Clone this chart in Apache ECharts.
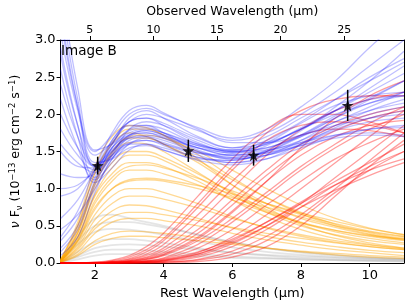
<!DOCTYPE html>
<html><head><meta charset="utf-8">
<script src="https://cdn.jsdelivr.net/npm/echarts@6/dist/echarts.min.js"></script>
<style>html,body{margin:0;padding:0;background:#fff}#c{width:407px;height:305px}</style>
</head><body><div id="c"></div>
<script>
// Rest wavelength sample points (µm)
const restX = [1, 1.5, 2, 2.5, 3, 3.5, 4, 5, 6, 7, 8, 9, 10, 11];
const obsFactor = 2.70; // observed / rest wavelength
const restTicks = [2, 4, 6, 8, 10];
const obsTicks = [5, 10, 15, 20, 25];
const yTicks = [0, 0.5, 1.0, 1.5, 2.0, 2.5, 3.0];

// Photometry (rest wavelength, flux, error)
const obsPtsX = [2.08, 4.72, 6.62, 9.36];
const obsPtsY = [1.31, 1.51, 1.45, 2.12];
const obsPtsErr = [0.12, 0.15, 0.14, 0.21];

// Model curves
const grayCurves = [
  [0.02,0.30,0.50,0.55,0.55,0.52,0.48,0.38,0.28,0.20,0.15,0.11,0.08,0.06],
  [0.01,0.15,0.28,0.32,0.32,0.30,0.27,0.20,0.14,0.10,0.07,0.05,0.04,0.03],
  [0.01,0.08,0.15,0.18,0.18,0.17,0.15,0.12,0.09,0.07,0.05,0.04,0.03,0.02],
  [0.03,0.35,0.60,0.65,0.60,0.55,0.50,0.38,0.28,0.20,0.14,0.10,0.07,0.05],
  [0.01,0.10,0.20,0.24,0.25,0.24,0.22,0.18,0.14,0.11,0.09,0.07,0.06,0.05],
  [0.02,0.25,0.42,0.46,0.45,0.42,0.38,0.29,0.21,0.15,0.11,0.08,0.06,0.05],
  [0.01,0.05,0.10,0.12,0.12,0.12,0.11,0.09,0.07,0.06,0.05,0.04,0.03,0.03]
];
const orangeCurves = [
  [0.05,0.50,1.20,1.60,1.75,1.70,1.60,1.35,1.05,0.80,0.60,0.48,0.38,0.32],
  [0.03,0.40,1.00,1.35,1.50,1.50,1.42,1.20,0.95,0.72,0.55,0.44,0.36,0.30],
  [0.02,0.30,0.80,1.10,1.25,1.25,1.20,1.05,0.85,0.68,0.54,0.44,0.37,0.32],
  [0.02,0.25,0.65,0.90,1.00,1.00,0.95,0.80,0.62,0.47,0.36,0.28,0.22,0.18],
  [0.01,0.20,0.50,0.70,0.78,0.77,0.72,0.60,0.47,0.36,0.28,0.22,0.17,0.14],
  [0.03,0.45,1.10,1.50,1.70,1.72,1.68,1.50,1.25,1.00,0.78,0.60,0.47,0.38],
  [0.02,0.35,0.90,1.20,1.35,1.35,1.30,1.10,0.85,0.62,0.45,0.33,0.25,0.20],
  [0.01,0.15,0.40,0.55,0.60,0.60,0.57,0.50,0.40,0.31,0.24,0.18,0.14,0.10],
  [0.04,0.55,1.30,1.70,1.85,1.82,1.72,1.40,1.05,0.75,0.52,0.37,0.27,0.20],
  [0.02,0.30,0.75,1.00,1.10,1.12,1.10,1.00,0.88,0.75,0.62,0.50,0.42,0.35],
  [0.01,0.12,0.30,0.40,0.43,0.42,0.40,0.34,0.27,0.20,0.15,0.11,0.08,0.06],
  [0.03,0.40,1.05,1.45,1.62,1.60,1.50,1.22,0.93,0.68,0.50,0.38,0.30,0.25],
  [0.02,0.35,0.92,1.28,1.45,1.45,1.38,1.15,0.90,0.70,0.54,0.42,0.33,0.27],
  [0.03,0.42,1.08,1.48,1.68,1.68,1.60,1.38,1.12,0.88,0.68,0.52,0.41,0.33],
  [0.01,0.22,0.58,0.80,0.90,0.90,0.86,0.74,0.60,0.48,0.38,0.30,0.24,0.19],
  [0.02,0.28,0.72,1.00,1.12,1.14,1.12,1.04,0.93,0.80,0.67,0.56,0.46,0.38],
  [0.04,0.50,1.22,1.62,1.80,1.80,1.72,1.46,1.15,0.88,0.66,0.50,0.39,0.31],
  [0.01,0.18,0.46,0.62,0.68,0.68,0.65,0.57,0.48,0.40,0.33,0.27,0.22,0.18],
  [0.02,0.32,0.84,1.15,1.30,1.32,1.28,1.14,0.97,0.80,0.65,0.53,0.43,0.36],
  [0.01,0.10,0.25,0.33,0.36,0.36,0.34,0.30,0.25,0.20,0.16,0.13,0.10,0.08]
];
const redCurves = [
  [0,0,0,0.01,0.03,0.08,0.17,0.45,0.85,1.25,1.60,1.85,2.00,2.10],
  [0,0,0,0,0.01,0.03,0.07,0.25,0.55,0.90,1.25,1.55,1.80,2.00],
  [0,0,0,0,0,0.01,0.03,0.12,0.30,0.55,0.82,1.10,1.35,1.60],
  [0,0,0,0.02,0.06,0.15,0.30,0.75,1.25,1.65,1.85,1.90,1.85,1.75],
  [0,0,0,0,0.01,0.02,0.05,0.15,0.32,0.55,0.80,1.05,1.25,1.40],
  [0,0,0,0,0,0,0.01,0.04,0.12,0.30,0.60,0.95,1.25,1.50],
  [0,0,0.01,0.04,0.10,0.22,0.40,0.90,1.40,1.80,2.00,2.00,1.90,1.75],
  [0,0,0,0.01,0.02,0.05,0.10,0.30,0.60,0.95,1.30,1.60,1.88,2.10],
  [0,0,0,0,0.01,0.02,0.04,0.14,0.35,0.65,1.00,1.35,1.70,2.05],
  [0,0,0,0,0,0.01,0.02,0.08,0.22,0.45,0.75,1.05,1.30,1.50],
  [0,0,0,0.01,0.04,0.10,0.20,0.55,1.00,1.45,1.80,2.05,2.20,2.30],
  [0,0,0,0,0,0,0,0.02,0.08,0.22,0.50,0.90,1.30,1.65],
  [0,0,0.01,0.03,0.08,0.18,0.33,0.80,1.30,1.75,2.05,2.20,2.25,2.25],
  [0,0,0,0.01,0.02,0.06,0.12,0.35,0.70,1.10,1.45,1.70,1.85,1.92],
  [0,0,0,0,0.01,0.03,0.06,0.20,0.45,0.78,1.10,1.40,1.62,1.80],
  [0,0,0,0,0,0.01,0.03,0.10,0.26,0.50,0.80,1.15,1.50,1.85],
  [0,0,0,0.02,0.05,0.12,0.25,0.65,1.10,1.50,1.72,1.80,1.78,1.70],
  [0,0,0,0,0.01,0.02,0.04,0.12,0.28,0.50,0.75,0.98,1.18,1.35],
  [0,0,0,0,0,0,0.01,0.05,0.16,0.36,0.65,1.00,1.38,1.75],
  [0,0,0,0.01,0.03,0.07,0.14,0.40,0.78,1.18,1.52,1.78,1.95,2.05],
  [0,0,0,0.01,0.02,0.05,0.11,0.33,0.68,1.10,1.55,1.95,2.25,2.45]
];
const blueCurves = [
  [3.80,2.35,1.52,1.60,1.80,1.85,1.80,1.60,1.50,1.60,1.80,2.05,2.35,2.65],
  [3.40,2.10,1.30,1.45,1.65,1.70,1.65,1.50,1.42,1.50,1.70,1.95,2.20,2.45],
  [2.90,1.85,1.15,1.45,1.80,1.90,1.85,1.65,1.52,1.60,1.80,2.00,2.15,2.30],
  [2.40,1.70,1.30,1.60,1.95,2.05,1.95,1.70,1.55,1.70,1.95,2.20,2.45,2.70],
  [1.80,1.45,1.25,1.45,1.70,1.75,1.70,1.55,1.45,1.50,1.65,1.85,2.05,2.20],
  [1.20,1.15,1.20,1.55,1.75,1.80,1.75,1.60,1.50,1.55,1.70,1.90,2.10,2.30],
  [0.60,0.85,1.25,1.60,1.85,1.85,1.75,1.52,1.42,1.48,1.62,1.80,1.95,2.05],
  [0.30,0.60,1.15,1.50,1.68,1.70,1.60,1.45,1.35,1.40,1.55,1.70,1.80,1.85],
  [3.10,2.05,1.45,1.62,1.90,2.00,1.95,1.78,1.65,1.75,2.00,2.30,2.65,3.00],
  [2.00,1.55,1.30,1.50,1.68,1.72,1.68,1.55,1.48,1.62,1.88,2.12,2.25,2.30],
  [0.90,1.00,1.30,1.75,2.05,2.12,2.02,1.80,1.62,1.62,1.72,1.85,1.95,2.00],
  [2.60,1.70,1.08,1.28,1.52,1.60,1.55,1.42,1.35,1.45,1.65,1.90,2.05,2.15],
  [0.45,0.65,1.00,1.40,1.60,1.60,1.52,1.38,1.32,1.40,1.60,1.82,2.00,2.10],
  [1.50,1.30,1.28,1.65,1.90,1.95,1.88,1.68,1.55,1.62,1.80,2.05,2.30,2.55],
  [3.60,2.20,1.35,1.40,1.55,1.58,1.52,1.40,1.38,1.52,1.78,2.10,2.45,2.85],
  [0.20,0.50,1.10,1.55,1.78,1.82,1.75,1.58,1.48,1.52,1.62,1.72,1.75,1.72],
  [0.10,0.35,0.95,1.40,1.62,1.65,1.58,1.42,1.38,1.50,1.72,1.98,2.22,2.45],
  [2.20,1.55,1.12,1.35,1.60,1.68,1.62,1.48,1.40,1.45,1.58,1.72,1.80,1.82],
  [3.30,2.10,1.50,1.72,2.00,2.08,2.00,1.82,1.68,1.80,2.10,2.45,2.90,3.30],
  [1.00,1.05,1.25,1.55,1.72,1.75,1.68,1.50,1.40,1.45,1.60,1.78,1.90,1.95],
  [0.35,0.70,1.25,1.65,1.90,1.95,1.85,1.62,1.50,1.55,1.72,1.95,2.15,2.25],
  [2.80,1.85,1.32,1.52,1.72,1.78,1.72,1.58,1.52,1.65,1.90,2.20,2.50,2.75],
  [1.60,1.35,1.22,1.42,1.60,1.65,1.60,1.48,1.45,1.58,1.82,2.05,2.20,2.25],
  [0.15,0.45,1.05,1.48,1.72,1.78,1.72,1.55,1.45,1.48,1.58,1.68,1.72,1.70]
];

const FONT = 'DejaVu Sans';
const chart = echarts.init(document.getElementById('c'), null, {renderer: 'canvas'});

function curveSeries(list, color, opacity, width) {
  return list.map(vals => ({
    type: 'line',
    xAxisIndex: 0, yAxisIndex: 0,
    data: restX.map((x, i) => [x, vals[i]]),
    showSymbol: false, symbol: 'none',
    smooth: 0.4,
    silent: true, animation: false,
    lineStyle: {color: color, width: width, opacity: opacity},
    z: 2
  }));
}

const starPath = 'path://M0,-10 L2.35,-3.24 L9.51,-3.09 L3.8,1.24 L5.88,8.09 L0,4 L-5.88,8.09 L-3.8,1.24 L-9.51,-3.09 L-2.35,-3.24 Z';

const series = [].concat(
  curveSeries(grayCurves, '#b4b4b4', 0.35, 1.8),
  curveSeries(orangeCurves, '#ffa500', 0.42, 1.3),
  curveSeries(redCurves, '#ff0000', 0.38, 1.3),
  curveSeries(blueCurves, '#0000ff', 0.25, 1.3),
  [{
    type: 'custom',
    xAxisIndex: 0, yAxisIndex: 0,
    data: obsPtsX.map((x, i) => [x, obsPtsY[i], obsPtsErr[i]]),
    renderItem: function (params, api) {
      const x = api.value(0), y = api.value(1), e = api.value(2);
      const p1 = api.coord([x, y - e]), p2 = api.coord([x, y + e]);
      return {type: 'line', shape: {x1: p1[0], y1: p1[1], x2: p2[0], y2: p2[1]},
        style: {stroke: '#000', lineWidth: 1.5}};
    },
    z: 10, silent: true, animation: false
  }, {
    type: 'scatter',
    xAxisIndex: 0, yAxisIndex: 0,
    data: obsPtsX.map((x, i) => [x, obsPtsY[i]]),
    symbol: starPath, symbolSize: 12,
    itemStyle: {color: '#000'},
    z: 11, silent: true, animation: false
  }, {
    type: 'line', xAxisIndex: 1, yAxisIndex: 0, data: [], silent: true
  }]
);

const axisText = {color: '#000', fontFamily: FONT};
chart.setOption({
  animation: false,
  backgroundColor: '#fff',
  grid: {left: 51.4, right: 3, top: 34, bottom: 41.7, containLabel: false},
  xAxis: [{
    type: 'value', position: 'bottom', min: 1, max: 11,
    name: 'Rest Wavelength (μm)', nameLocation: 'middle', nameGap: 24,
    nameTextStyle: Object.assign({fontSize: 13}, axisText),
    axisLine: {show: true, onZero: false, lineStyle: {color: '#000', width: 1}},
    axisTick: {show: true, inside: false, length: 4, lineStyle: {color: '#000', width: 1}, customValues: restTicks},
    axisLabel: Object.assign({fontSize: 13, margin: 6, customValues: restTicks}, axisText),
    splitLine: {show: false}
  }, {
    type: 'value', position: 'top', min: 1 * obsFactor, max: 11 * obsFactor,
    name: 'Observed Wavelength (μm)', nameLocation: 'middle', nameGap: 22,
    nameTextStyle: Object.assign({fontSize: 12.5}, axisText),
    axisLine: {show: true, onZero: false, lineStyle: {color: '#000', width: 1}},
    axisTick: {show: true, inside: false, length: 4, lineStyle: {color: '#000', width: 1}, customValues: obsTicks},
    axisLabel: Object.assign({fontSize: 11, margin: 4, customValues: obsTicks}, axisText),
    splitLine: {show: false}
  }],
  yAxis: [{
    type: 'value', min: 0, max: 3, interval: 0.5,
    name: '{it|ν} F{sub|ν} (10{sup|−13} erg cm{sup|−2} s{sup|−1})',
    nameLocation: 'middle', nameGap: 34, nameRotate: 90,
    nameTextStyle: {
      color: '#000', fontFamily: FONT, fontSize: 12.5, lineHeight: 16,
      rich: {
        it: {fontFamily: FONT, fontStyle: 'italic', fontSize: 12.5, color: '#000'},
        sub: {fontFamily: FONT, fontSize: 8.5, verticalAlign: 'bottom', color: '#000', lineHeight: 16},
        sup: {fontFamily: FONT, fontSize: 8.5, verticalAlign: 'top', color: '#000', lineHeight: 16}
      }
    },
    axisLine: {show: true, lineStyle: {color: '#000', width: 1}},
    axisTick: {show: true, inside: false, length: 4, lineStyle: {color: '#000', width: 1}},
    axisLabel: Object.assign({fontSize: 13, margin: 5, formatter: v => v.toFixed(1)}, axisText),
    splitLine: {show: false}
  }, {
    type: 'value', position: 'right', min: 0, max: 3,
    axisLine: {show: true, lineStyle: {color: '#000', width: 1}},
    axisTick: {show: false}, axisLabel: {show: false}, splitLine: {show: false}
  }],
  graphic: [{
    type: 'text', left: 61, top: 44, z: 20,
    style: {text: 'Image B', fontFamily: FONT, fontSize: 13.5, fill: '#000'}
  }],
  series: series
});
</script></body></html>
